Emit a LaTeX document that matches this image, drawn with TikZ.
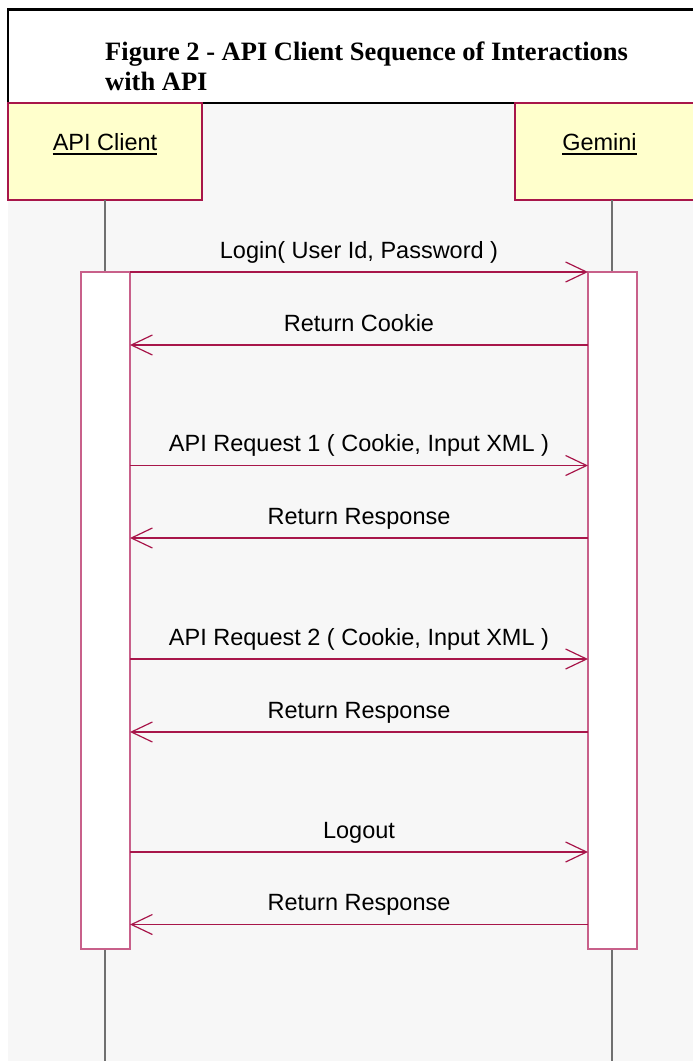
\documentclass[tikz,border=0pt]{standalone}
\usepackage{fontspec}
\setmainfont{Liberation Sans}
\newfontfamily\titlefont{Liberation Serif}
\usetikzlibrary{arrows.meta}
\definecolor{bgc}{HTML}{F7F7F7}
\definecolor{actfill}{HTML}{FFFFCC}
\definecolor{crim}{HTML}{A8164A}
\definecolor{pinkb}{HTML}{C8608A}
\definecolor{lifec}{HTML}{707070}
\begin{document}
\begin{tikzpicture}[x=1pt,y=-1pt,
  actor/.style={draw=crim, fill=actfill, line width=1.2pt, minimum width=194pt, minimum height=97pt, inner sep=0pt, outer sep=0pt, anchor=north west},
  actbox/.style={draw=pinkb, fill=white, line width=1.4pt, minimum width=49pt, minimum height=677pt, inner sep=0pt, outer sep=0pt, anchor=north west},
  life/.style={draw=lifec, line width=1.5pt},
  msg/.style={draw=crim, line width=1.2pt, -{Straight Barb[length=21pt,width=20pt,line width=1.2pt]}},
  lbl/.style={font=\fontsize{23.5}{28}\selectfont, anchor=base, inner sep=0pt},
  aname/.style={font=\fontsize{23.5}{28}\selectfont, anchor=base, inner sep=0pt},
  uline/.style={draw=black, line width=1.6pt}]
\useasboundingbox (0,0) rectangle (693,1061);
\fill[white] (0,0) rectangle (693,1061);
\fill[bgc] (8,103) rectangle (720,1061);
\coordinate (bottom) at (0,1061);
% title
\draw[black, line width=2.6pt, fill=white] (8,9.5) rectangle (730,103);
\node[anchor=base west, inner sep=0pt, font=\titlefont\bfseries\fontsize{26.5}{30}\selectfont] (title1) at (105,60) {Figure 2 - API Client Sequence of Interactions};
\node[anchor=base west, inner sep=0pt, font=\titlefont\bfseries\fontsize{26.5}{30}\selectfont] (title2) at (105,90) {with API};
% actors
\node[actor] (actorA) at (8,103) {};
\node[actor] (actorB) at (515,103) {};
\node[aname] (nameA) at (105,150) {API Client};
\node[aname] (nameB) at (599.5,150) {Gemini};
\draw[uline] ([yshift=-4pt]nameA.base west) -- ([yshift=-4pt]nameA.base east);
\draw[uline] ([yshift=-4pt]nameB.base west) -- ([yshift=-4pt]nameB.base east);
% lifelines
\draw[life] (actorA.south) -- (actorA.south |- bottom);
\draw[life] (actorB.south) -- (actorB.south |- bottom);
% activations
\node[actbox] (actA) at (81,272) {};
\node[actbox] (actB) at (588,272) {};
% messages
\coordinate (m1) at (359,272);
\coordinate (m2) at (359,345);
\coordinate (m3) at (359,465.5);
\coordinate (m4) at (359,538);
\coordinate (m5) at (359,659);
\coordinate (m6) at (359,732);
\coordinate (m7) at (359,852);
\coordinate (m8) at (359,924.5);
\draw[msg] (actA.east |- m1) -- (actB.west |- m1);
\draw[msg] (actB.west |- m2) -- (actA.east |- m2);
\draw[msg] (actA.east |- m3) -- (actB.west |- m3);
\draw[msg] (actB.west |- m4) -- (actA.east |- m4);
\draw[msg] (actA.east |- m5) -- (actB.west |- m5);
\draw[msg] (actB.west |- m6) -- (actA.east |- m6);
\draw[msg] (actA.east |- m7) -- (actB.west |- m7);
\draw[msg] (actB.west |- m8) -- (actA.east |- m8);
\node[lbl] (l1) at (359,258) {Login( User Id, Password )};
\node[lbl] (l2) at (359,331) {Return Cookie};
\node[lbl] (l3) at (359,451.5) {API Request 1 ( Cookie, Input XML )};
\node[lbl] (l4) at (359,524) {Return Response};
\node[lbl] (l5) at (359,645) {API Request 2 ( Cookie, Input XML )};
\node[lbl] (l6) at (359,718) {Return Response};
\node[lbl] (l7) at (359,838) {Logout};
\node[lbl] (l8) at (359,910.5) {Return Response};
\end{tikzpicture}
\end{document}
